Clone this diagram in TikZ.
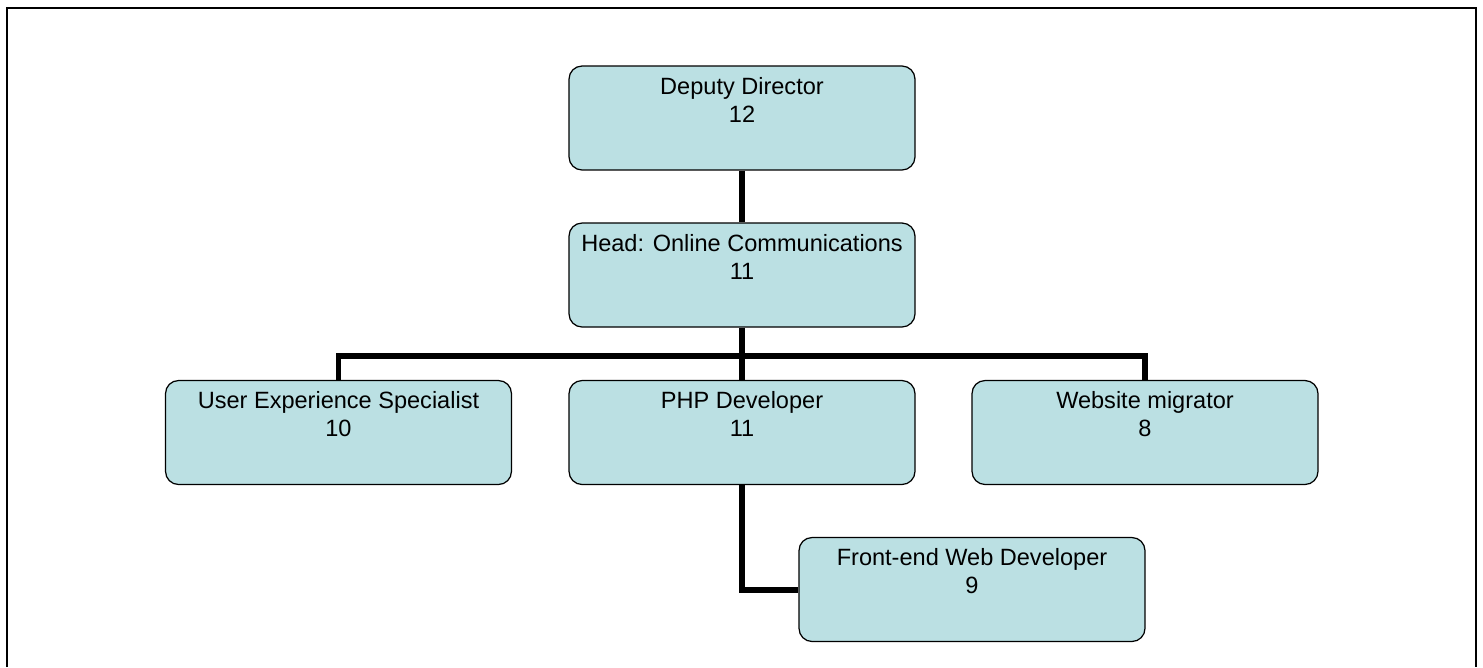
\documentclass[tikz,border=0pt]{standalone}
\usepackage{fontspec}
\setmainfont{Liberation Sans}
\usepackage{tikz}
\usetikzlibrary{calc}

\definecolor{boxblue}{RGB}{187,224,227}
\tikzset{
    post/.style={draw=black, line width=0.7pt, fill=boxblue, rounded corners=0.26cm,
        minimum width=6.92cm, minimum height=2.08cm, inner sep=0pt, align=center,
        font=\fontsize{13.4}{15.9}\selectfont},
    link/.style={line width=3.4pt, line join=miter},
    frame/.style={line width=1.6pt}
}

\begin{document}
\begin{tikzpicture}[x=0.02cm, y=-0.02cm]
        \useasboundingbox (0,0) rectangle (1483,667);
        \draw[frame] (7,667) -- (7,8) -- (1476,8) -- (1476,667);

        \node[post] (dep) at (742, 118) {Deputy Director\\12\\\strut};
        \node[post] (head) at (742, 275) {Head: Online Communications\\11\\\strut};
        \node[post] (ux) at (338.5, 432.5) {User Experience Specialist\\10\\\strut};
        \node[post] (php) at (742, 432.5) {PHP Developer\\11\\\strut};
        \node[post] (web) at (1145, 432.5) {Website migrator\\8\\\strut};
        \node[post] (fe) at (972, 589.5) {Front-end Web Developer\\9\\\strut};

        \coordinate (bus) at (742, 356);
        \draw[link] (dep) -- (head);
        \draw[link] (head) -- (php);
        \draw[link] (ux.north) |- (bus);
        \draw[link] (web.north) |- (bus);
        \draw[link] (php.south) |- (fe.west);
    \end{tikzpicture}
\end{document}
